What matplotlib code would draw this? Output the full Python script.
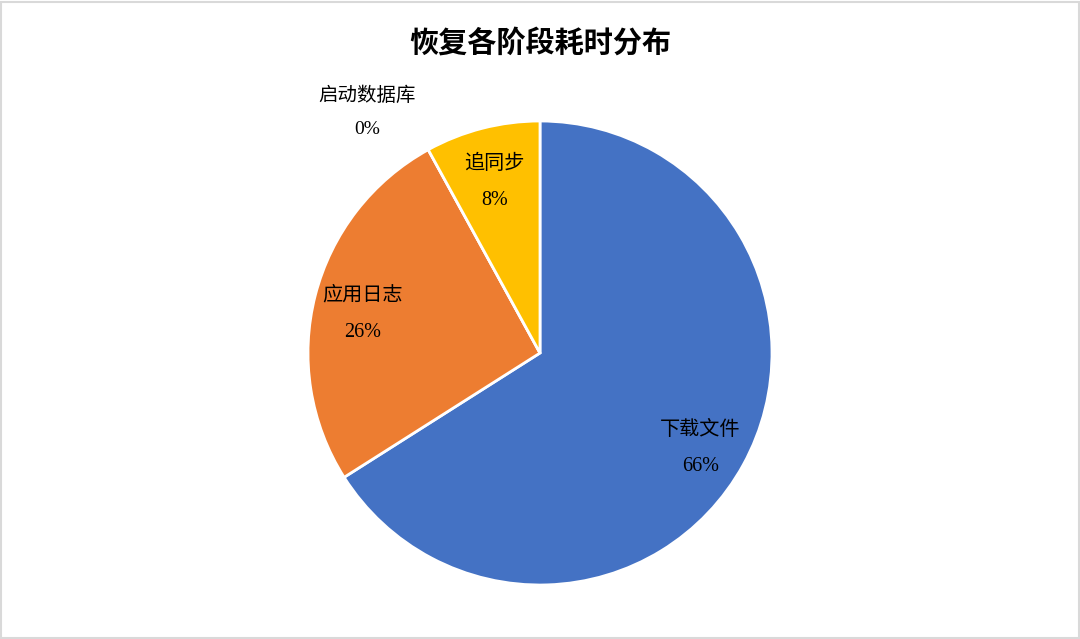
import matplotlib.pyplot as plt
import numpy as np
from matplotlib.patches import Rectangle

plt.rcParams['font.family'] = ['Liberation Serif', 'Noto Sans CJK SC', 'DejaVu Sans']

title = '恢复各阶段耗时分布'
stages = ['下载文件', '应用日志', '启动数据库', '追同步']
shares = [66, 26, 0, 8]
colors = ['#4472C4', '#ED7D31', '#A5A5A5', '#FFC000']

fig = plt.figure(figsize=(10.8, 6.39), dpi=100)
# pie: centre at (540, 353) px, radius 232 px
W, H = 1080, 639
r_px = 232
ax = fig.add_axes([(540 - r_px) / W, (H - 353 - r_px) / H, 2 * r_px / W, 2 * r_px / H])

wedges, _ = ax.pie(shares, colors=colors, startangle=90, counterclock=False,
                   radius=1.0, wedgeprops=dict(edgecolor='white', linewidth=2))
ax.set_xlim(-1, 1)
ax.set_ylim(-1, 1)
ax.set_aspect('equal')
ax.axis('off')

for w, name, val in zip(wedges, stages, shares):
    mid = np.deg2rad((w.theta1 + w.theta2) / 2)
    if val > 0:
        x, y = 0.79 * np.cos(mid), 0.79 * np.sin(mid)
        ax.annotate(f'{name}\n{val}%', xy=(x, y), xytext=(0, -5),
                    textcoords='offset points', ha='center', va='center',
                    fontsize=14.5, linespacing=2.2, color='black')
    else:
        # zero slice: label sits outside, up and to the left
        x, y = np.cos(mid), np.sin(mid)
        ax.annotate(f'{name}\n{val}%', xy=(x, y), xytext=(-44, 27),
                    textcoords='offset points', ha='center', va='center',
                    fontsize=14, linespacing=2.2, color='black')

fig.text(0.5, 1 - 43 / H, title, ha='center', va='center',
         fontsize=21, fontweight='bold')

fig.patches.append(Rectangle((0.001, 0.002), 0.998, 0.995, transform=fig.transFigure,
                             fill=False, edgecolor='#D9D9D9', linewidth=1.5))

fig.savefig('out.png', dpi=100, facecolor='white')
